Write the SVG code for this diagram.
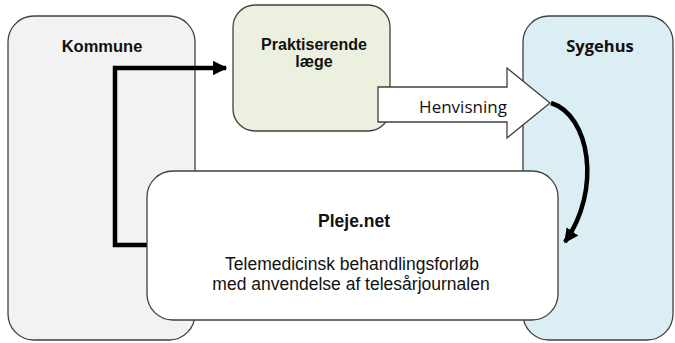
<svg xmlns="http://www.w3.org/2000/svg" width="675" height="343" viewBox="0 0 675 343">
<defs>
<style>
.box{stroke:#404040;stroke-width:1.3}
.t{font-family:"Liberation Sans",Arial,sans-serif;fill:#111;text-anchor:middle}
.b{font-weight:bold}
.c{font-family:"Open Sans","Liberation Sans",sans-serif;fill:#111;text-anchor:middle}
.con{fill:none;stroke:#000;stroke-width:4.5}
</style>
<marker id="ah" viewBox="0 0 10 10" refX="9" refY="5" markerWidth="3.2" markerHeight="3.2" orient="auto" markerUnits="strokeWidth">
<path d="M0,0 L10,5 L0,10 z" fill="#000"/>
</marker>
</defs>
<rect width="675" height="343" fill="#fff"/>
<g id="kommune">
<rect class="box" x="8" y="16" width="187" height="324" rx="26" fill="#f2f2f2"/>
<text class="t b" x="102" y="52" font-size="16.5">Kommune</text>
</g>
<g id="sygehus">
<rect class="box" x="523" y="16" width="150" height="324" rx="26" fill="#dbeef3"/>
<text class="c b" x="600" y="52" font-size="16.5">Sygehus</text>
</g>
<g id="praktiserende">
<rect class="box" x="233" y="5" width="157" height="126" rx="22" fill="#ebf1de"/>
<text class="t b" x="314" y="50" font-size="16">Praktiserende</text>
<text class="t b" x="314" y="67" font-size="16">læge</text>
</g>
<g id="henvisning">
<path class="box" d="M378,87 L507,87 L507,68 L550,103 L507,138 L507,122 L378,122 z" fill="#fff"/>
<text class="c" x="463" y="113" font-size="17">Henvisning</text>
</g>
<g id="connectors">
<path class="con" d="M147,245 L115,245 L115,68 L226,68" marker-end="url(#ah)"/>
<path class="con" d="M551,103 C590,115 602,190 565,242" marker-end="url(#ah)"/>
</g>
<g id="plejenet">
<rect class="box" x="147" y="171" width="411" height="149" rx="26" fill="#fff"/>
<text class="t b" x="354" y="227" font-size="17.5">Pleje.net</text>
<text class="t" x="352" y="269.5" font-size="17.5">Telemedicinsk behandlingsforløb</text>
<text class="t" x="351" y="289.5" font-size="17.5">med anvendelse af telesårjournalen</text>
</g>
</svg>
